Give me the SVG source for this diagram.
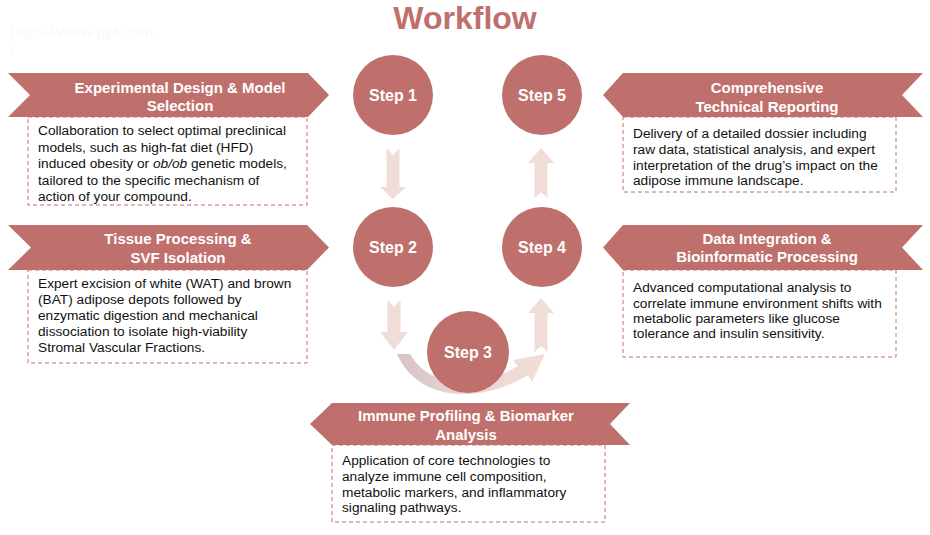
<svg xmlns="http://www.w3.org/2000/svg" width="930" height="535" viewBox="0 0 930 535">
<defs>
<linearGradient id="cres" x1="0" y1="0" x2="1" y2="0">
<stop offset="0" stop-color="#d8c4c4"/>
<stop offset="0.5" stop-color="#ead6d2"/>
<stop offset="1" stop-color="#f3ded6"/>
</linearGradient>
</defs>
<style>
.ban{fill:#c0706c}
.box{fill:#fff;stroke:#c0706c;stroke-width:1;stroke-dasharray:4 3}
.bt{font-family:"Liberation Sans",Arial,sans-serif;font-weight:bold;font-size:15px;fill:#fff;text-anchor:middle}
.tx{font-family:"Liberation Sans",Arial,sans-serif;font-size:13.7px;fill:#111}
.circ{fill:#c0706c}
.st{font-family:"Liberation Sans",Arial,sans-serif;font-weight:bold;font-size:16px;fill:#fff;text-anchor:middle}
.arr{fill:#f0ddd7}
.wm{font-family:"Liberation Sans",Arial,sans-serif;font-size:16px;fill:#f9f9f9}
</style>
<rect width="930" height="535" fill="#fff"/>
<text class="wm" x="10" y="37">https://www.ppt.com</text>
<text class="wm" x="10" y="56">/</text>
<text x="465" y="29" font-family="'Liberation Sans',Arial,sans-serif" font-weight="bold" font-size="32" fill="#c0706c" text-anchor="middle">Workflow</text>

<g id="connectors">
<polygon class="arr" points="386.5,148 393,155 399.5,148 399.5,187 406,187 393,199 380,187 386.5,187"/>
<polygon class="arr" points="387.5,300 394,307 400.5,300 400.5,332 408,332 394,350 380,332 387.5,332"/>
<polygon class="arr" points="541,148 554,163 547.5,163 547.5,198 541,192 534.5,198 534.5,163 528,163"/>
<polygon class="arr" points="541,298 554,313 547.5,313 547.5,352 541,346 534.5,352 534.5,313 528,313"/>
<path fill="url(#cres)" d="M397 354 L410 354 C428 386 474 392 518 366 L513 360 L545 354 L532 382 L528 375 C480 404 418 402 397 354 Z"/>
</g>

<g id="step1"><circle class="circ" cx="393" cy="95" r="40"/><text class="st" x="393" y="101">Step 1</text></g>
<g id="step5"><circle class="circ" cx="542" cy="95" r="40"/><text class="st" x="542" y="101">Step 5</text></g>
<g id="step2"><circle class="circ" cx="393" cy="247" r="40"/><text class="st" x="393" y="253">Step 2</text></g>
<g id="step4"><circle class="circ" cx="542" cy="247" r="40"/><text class="st" x="542" y="253">Step 4</text></g>
<g id="step3"><circle class="circ" cx="468" cy="352" r="41"/><text class="st" x="468" y="358">Step 3</text></g>

<g id="design">
<rect class="box" x="28" y="117" width="279" height="88"/>
<polygon class="ban" points="8,73 308,73 329,95 308,117 8,117 30,95"/>
<text class="bt" x="180" y="93">Experimental Design &amp; Model</text>
<text class="bt" x="180" y="111">Selection</text>
<text class="tx" x="38" y="135">Collaboration to select optimal preclinical</text>
<text class="tx" x="38" y="151.5">models, such as high-fat diet (HFD)</text>
<text class="tx" x="38" y="168">induced obesity or <tspan font-style="italic">ob/ob</tspan> genetic models,</text>
<text class="tx" x="38" y="184.5">tailored to the specific mechanism of</text>
<text class="tx" x="38" y="201">action of your compound.</text>
</g>

<g id="tissue">
<rect class="box" x="28" y="270" width="279" height="93"/>
<polygon class="ban" points="8,225 307,225 329,247.5 307,270 8,270 31,247.5"/>
<text class="bt" x="178" y="244">Tissue Processing &amp;</text>
<text class="bt" x="178" y="263">SVF Isolation</text>
<text class="tx" x="38" y="288">Expert excision of white (WAT) and brown</text>
<text class="tx" x="38" y="304">(BAT) adipose depots followed by</text>
<text class="tx" x="38" y="320">enzymatic digestion and mechanical</text>
<text class="tx" x="38" y="336">dissociation to isolate high-viability</text>
<text class="tx" x="38" y="352">Stromal Vascular Fractions.</text>
</g>

<g id="reporting">
<rect class="box" x="623" y="117" width="273" height="75"/>
<polygon class="ban" points="603,95 623,73 923,73 902,95 923,117 623,117"/>
<text class="bt" x="767" y="93">Comprehensive</text>
<text class="bt" x="767" y="112">Technical Reporting</text>
<text class="tx" x="633" y="138">Delivery of a detailed dossier including</text>
<text class="tx" x="633" y="154">raw data, statistical analysis, and expert</text>
<text class="tx" x="633" y="170">interpretation of the drug’s impact on the</text>
<text class="tx" x="633" y="185">adipose immune landscape.</text>
</g>

<g id="integration">
<rect class="box" x="623" y="270" width="273" height="87"/>
<polygon class="ban" points="603,247.5 623,225 923,225 902,247.5 923,270 623,270"/>
<text class="bt" x="767" y="244">Data Integration &amp;</text>
<text class="bt" x="767" y="262">Bioinformatic Processing</text>
<text class="tx" x="633" y="292">Advanced computational analysis to</text>
<text class="tx" x="633" y="308">correlate immune environment shifts with</text>
<text class="tx" x="633" y="323">metabolic parameters like glucose</text>
<text class="tx" x="633" y="338">tolerance and insulin sensitivity.</text>
</g>

<g id="immune">
<rect class="box" x="332" y="445" width="273" height="77"/>
<polygon class="ban" points="310,424 332,403 630,403 610,424 630,445 332,445"/>
<text class="bt" x="466" y="421">Immune Profiling &amp; Biomarker</text>
<text class="bt" x="466" y="440">Analysis</text>
<text class="tx" x="342" y="465">Application of core technologies to</text>
<text class="tx" x="342" y="481">analyze immune cell composition,</text>
<text class="tx" x="342" y="497">metabolic markers, and inflammatory</text>
<text class="tx" x="342" y="512">signaling pathways.</text>
</g>
</svg>
